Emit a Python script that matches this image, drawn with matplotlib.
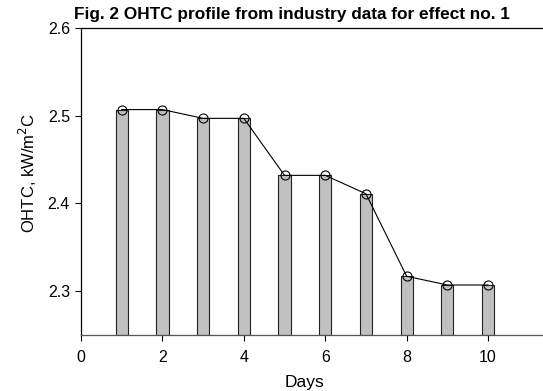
import matplotlib
matplotlib.use('Agg')
import matplotlib.pyplot as plt

plt.rcParams['font.family'] = ['Liberation Sans', 'DejaVu Sans']

# OHTC measured on each day (kW/m2C)
days = [1, 2, 3, 4, 5, 6, 7, 8, 9, 10]
ohtc = [2.507, 2.507, 2.497, 2.497, 2.432, 2.432, 2.411, 2.317, 2.307, 2.307]
y_base = 2.25

fig = plt.figure(figsize=(5.43, 3.91), dpi=100)
ax = fig.add_axes([81 / 543, 56 / 391, 1 - 81 / 543, 307 / 391])

heights = [v - y_base for v in ohtc]
ax.bar(days, heights, bottom=y_base, width=0.3, color='#c0c0c0',
       edgecolor='#222222', linewidth=0.8, zorder=2)
ax.plot(days, ohtc, color='black', linewidth=0.8, marker='o', markersize=6.5,
        markerfacecolor='none', markeredgecolor='black', markeredgewidth=0.8,
        zorder=3)

ax.set_xlim(0, 11.35)
ax.set_ylim(y_base, 2.6)
ax.set_xticks([0, 2, 4, 6, 8, 10])
ax.set_yticks([2.3, 2.4, 2.5, 2.6])
ax.set_yticklabels(['2.3', '2.4', '2.5', '2.6'])
ax.tick_params(direction='out', length=4, width=0.8, labelsize=11.5, pad=4)
ax.tick_params(axis='x', pad=7)

ax.spines['right'].set_visible(False)
for s in ['left', 'bottom', 'top']:
    ax.spines[s].set_linewidth(0.9)
ax.spines['bottom'].set_color('#555555')

fig.text(305 / 543, 1 - 382 / 391, 'Days', fontsize=12.5, ha='center', va='center')
fig.text(28 / 543, 1 - 173 / 391, 'OHTC, kW/m$^2$C', fontsize=12, rotation=90,
         ha='center', va='center')

fig.text(292 / 543, 1 - 15 / 391, 'Fig. 2 OHTC profile from industry data for effect no. 1',
         fontsize=12.4, fontweight='bold', ha='center', va='center')

fig.savefig('out.png', dpi=100)
